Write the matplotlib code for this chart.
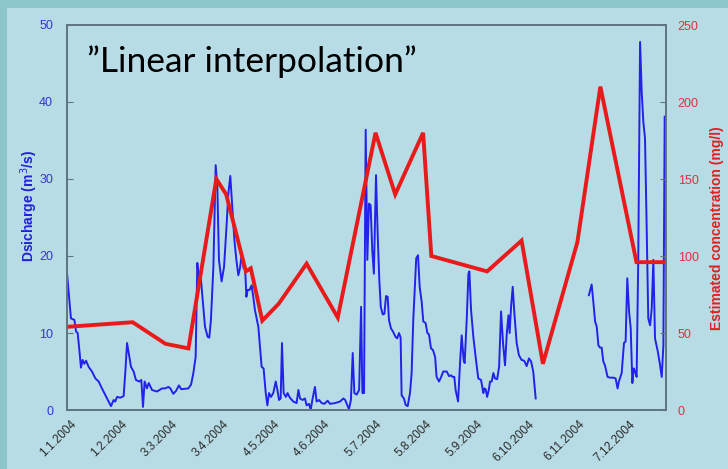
#!/usr/bin/env python3

import numpy as np
import matplotlib
matplotlib.use('Agg')
import matplotlib.patches as mpatches
import matplotlib.pyplot as plt
import matplotlib.transforms as mtransforms

# Daily discharge, days counted from 1.1.2004 (NaN = missing record)
q_days = [0, 2.4, 4.5, 5.5, 6.5, 7.7, 8.5, 9.5, 10.5, 11.6, 13.2, 15.2, 17.3, 19.3, 21.3,
          24.4, 26.8, 28.4, 29.4, 30.5, 32.5, 34.5, 35.5, 36.6, 37.6, 39, 40.6, 42, 44,
          45.3, 46.3, 47.3, 48.7, 49.8, 51.8, 54.8, 57.9, 59.7, 61.8, 63, 64.8, 66.5,
          68.2, 69.6, 73.9, 75.6, 77, 78.4, 79.4, 80.4, 81.2, 82.5, 84.1, 85.7, 86.7,
          87.7, 89.2, 90.6, 91.6, 92.6, 94.2, 95.7, 97.3, 98.3, 99.5, 100.7, 102, 103.2,
          104.4, 105.4, 106.4, 107.6, 108.5, 109.3, 110.1, 111.3, 112.5, 113.5, 114.5,
          116.6, 118.6, 119.8, 121.1, 122.1, 123.1, 124.3, 125.7, 127.2, 128.2, 129.2,
          130.2, 131, 132, 133.4, 134.4, 135.8, 137.9, 139.9, 141, 142, 143.5, 145, 146,
          147.5, 148.5, 149.5, 151.1, 152.1, 153.6, 155.2, 156.8, 158.8, 160.3, 163.3,
          166.4, 168.4, 169.5, 170.8, 171.8, 173, 174.1, 175.1, 176.5, 178, 179.2, 180,
          181, 182, 183, 184, 185, 186, 187, 188.3, 189.3, 190.3, 191.2, 192.4, 193.4,
          194.4, 195.4, 196.2, 197.4, 198.6, 200.2, 201.2, 202.3, 203.3, 203.9, 205.3,
          206.4, 207.6, 209, 210, 211, 212, 212.8, 213.9, 214.9, 216.1, 217.1, 218.5,
          219.6, 220.6, 221.8, 223, 224.3, 225.2, 226.7, 228, 229.3, 231.4, 232.8, 234,
          235, 236, 236.8, 238.3, 239.5, 240.5, 241.7, 242.3, 243.6, 244.6, 245.2, 246.2,
          247.6, 249, 250.6, 252.3, 253.7, 254.3, 255.1, 256, 257, 257.8, 258.8, 259.8,
          260.8, 262.1, 263.3, 264.5, 265.7, 266.9, 268, 269, 269.7, 270.6, 271.6, 272.6,
          274, 275.4, 277, 278.6, 280.1, 281.5, 282.8, 284.1, 285.6, 300, 318, 319.7,
          320.7, 321.8, 322.8, 323.8, 324.8, 325.8, 326.8, 327.8, 329.4, 330.9, 332.9,
          334.3, 335.5, 336.3, 338, 339.4, 340.4, 341.4, 342.5, 343.5, 344.5, 345.3,
          346.1, 347.1, 348.1, 349.2, 350.2, 351.2, 352.2, 353.2, 354.2, 355.3, 356.3,
          357.3, 358.3, 360, 361.4, 362.4, 363.4, 364.2]
discharge = [17.8, 11.9, 11.7, 10.2, 10.0, 7.4, 5.5, 6.5, 6.0, 6.4, 5.6, 5.0, 4.1, 3.7, 2.8,
             1.5, 0.5, 1.3, 1.1, 1.7, 1.6, 1.8, 4.8, 8.7, 7.4, 5.6, 5.0, 3.9, 3.7,
             3.9, 0.4, 3.7, 2.8, 3.5, 2.6, 2.4, 2.8, 2.8, 3.0, 2.8, 2.1, 2.5,
             3.2, 2.7, 2.8, 3.3, 4.8, 6.9, 19.1, 16.9, 18.0, 14.7, 10.8, 9.5, 9.4,
             11.7, 18.6, 31.8, 29.0, 19.5, 16.7, 18.6, 24.2, 28.1, 30.4, 26.4, 22.1, 19.5,
             17.5, 18.4, 20.1, 18.4, 18.6, 14.7, 15.6, 15.6, 16.2, 14.7, 13.0,
             10.8, 5.6, 5.4, 2.2, 0.6, 2.2, 1.7, 2.2, 3.7, 2.6, 1.3,
             1.5, 8.7, 2.2, 1.7, 2.2, 1.6, 1.1, 0.9, 2.6, 1.5, 1.3, 1.5, 0.6,
             0.8, 0.0, 1.3, 3.0, 1.1, 1.3, 0.9, 0.8, 1.2, 0.8, 0.9,
             1.1, 1.5, 1.3, 0.6, 0.1, 1.3, 7.4, 2.2, 2.0, 2.6, 13.4, 2.2,
             2.2, 36.4, 19.5, 26.8, 26.6, 20.8, 17.7, 30.5, 22.9, 16.9, 13.4, 12.4, 12.5,
             14.8, 14.7, 11.7, 10.6, 10.2, 9.5, 9.3, 10.0, 9.4, 1.9, 1.5,
             0.65, 0.5, 2.2, 4.8, 11.7, 16.0, 19.7, 20.1, 16.0, 14.1, 11.5, 11.3,
             10.0, 9.8, 8.0, 7.8, 6.9, 4.3, 3.7, 4.3, 5.0, 5.0, 4.4, 4.5,
             4.3, 4.3, 2.6, 1.1, 6.1, 9.7, 6.5, 6.1, 11.9, 17.7, 18.0, 13.0,
             9.5, 6.9, 4.1, 3.9, 2.2, 2.8, 2.7, 1.7, 2.6, 3.7, 3.7, 4.8,
             4.1, 4.0, 5.6, 12.8, 8.7, 5.8, 10.0, 12.3, 10.0, 13.4, 16.0, 12.6,
             8.7, 7.1, 6.5, 6.4, 5.7, 6.7, 6.3, 5.0, 1.5, np.nan, 14.9, 16.3,
             14.1, 11.5, 10.8, 8.4, 8.1, 8.1, 6.3, 5.8, 4.3, 4.2, 4.2,
             4.1, 2.8, 3.7, 4.8, 8.7, 8.9, 17.1, 12.8, 10.6, 3.5, 5.4,
             5.0, 4.3, 19.7, 47.8, 41.3, 37.4, 35.3, 24.0, 11.9, 11.0, 13.2,
             19.5, 9.3, 7.6, 5.8, 4.3, 8.4, 38.1]

# Concentration samples joined by straight lines
c_days = [0, 40, 60, 74, 91, 97, 109, 112, 119, 129, 146, 165, 188, 200, 217, 222,
          256, 277, 290, 311, 325, 347, 365]
concentration = [54, 57, 43, 40, 150, 140, 90, 92, 58, 69, 95, 60, 180, 140, 180, 100,
                 90, 110, 30, 109, 210, 96, 96]

tick_days = [0, 31, 62, 93, 124, 155, 186, 217, 248, 279, 310, 341]
tick_labels = ['1.1.2004', '1.2.2004', '3.3.2004', '3.4.2004', '4.5.2004', '4.6.2004',
               '5.7.2004', '5.8.2004', '5.9.2004', '6.10.2004', '6.11.2004', '7.12.2004']

W, H = 728, 469
plt.rcParams['font.family'] = ['Liberation Sans', 'DejaVu Sans']

fig = plt.figure(figsize=(W / 100, H / 100), dpi=100, facecolor='#8cc5cc')
fig.patches.append(mpatches.Rectangle((7 / W, 0), 1, (H - 8) / H, transform=fig.transFigure,
                                      facecolor='#b7dce6', edgecolor='none', zorder=-5))

ax = fig.add_axes([67 / W, 59 / H, 599 / W, 385 / H])
ax.patch.set_alpha(0)
ax2 = ax.twinx()
ax2.patch.set_alpha(0)

ax.plot(q_days, discharge, color='#2222e8', lw=1.4)
ax2.plot(c_days, concentration, color='#e81a1a', lw=2.8, solid_joinstyle='miter')

ax.set_xlim(0, 365)
ax.set_ylim(0, 50)
ax2.set_ylim(0, 250)

spine_col = '#5e7580'
for a in (ax, ax2):
    for s in a.spines.values():
        s.set_color(spine_col)
        s.set_linewidth(1.2)

ax.set_xticks(tick_days)
ax.set_xticklabels(tick_labels, rotation=45, ha='right', va='top', rotation_mode='anchor',
                   fontsize=8.5, color='#2b2b2b')
ax.tick_params(axis='x', length=0, pad=6)
shift = mtransforms.ScaledTranslation(3 / 100, 0, fig.dpi_scale_trans)
for lbl in ax.get_xticklabels():
    lbl.set_transform(lbl.get_transform() + shift)

ax.set_yticks(np.arange(0, 51, 10))
ax.tick_params(axis='y', direction='in', length=4, color=spine_col, pad=10,
               labelsize=9, labelcolor='#3535d0')
ax2.set_yticks(np.arange(0, 251, 50))
ax2.tick_params(axis='y', direction='in', length=4, color=spine_col, pad=8.5,
                labelsize=9, labelcolor='#e0303f')

ax.set_ylabel('Dsicharge (m$^3$/s)', color='#2020d8', fontsize=10, fontweight='bold')
ax.yaxis.set_label_coords(-0.045, 0.53)
ax2.set_ylabel('Estimated concentration (mg/l)', color='#e02020', fontsize=10,
               fontweight='bold')
ax2.yaxis.set_label_coords(1.074, 0.473)

fig.text(87 / W, (H - 72) / H, '\u201dLinear interpolation\u201d', fontsize=25.5,
         family=['Lato', 'DejaVu Sans'], color='black', va='baseline', ha='left')

fig.savefig('out.png', dpi=100, facecolor=fig.get_facecolor())
